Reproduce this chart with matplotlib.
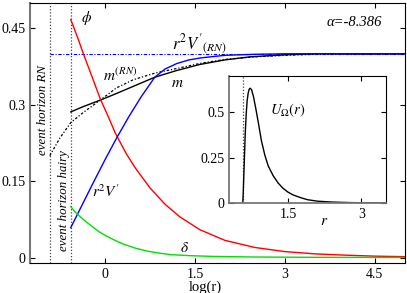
import matplotlib
matplotlib.use("Agg")
import matplotlib.pyplot as plt

plt.rcParams['font.family'] = ['Liberation Serif', 'DejaVu Serif']
plt.rcParams['mathtext.fontset'] = 'stix'

# horizons (log r)
x_rn = -0.92
x_hairy = -0.57

# phi (red)
phi_x = [-0.57, -0.45, -0.36, -0.2, -0.08, 0.05, 0.17, 0.35, 0.5, 0.75, 1.0, 1.25, 1.58,
         2.0, 2.5, 3.0, 3.5, 4.0, 4.5, 5.0]
phi_y = [0.467, 0.43, 0.40, 0.35, 0.312, 0.278, 0.245, 0.205, 0.177, 0.137, 0.105, 0.08, 0.055,
         0.034, 0.02, 0.012, 0.0075, 0.005, 0.003, 0.002]

# r^2 V' (blue)
v_x = [-0.57, -0.4, -0.2, 0.0, 0.2, 0.4, 0.6, 0.83, 1.0, 1.2, 1.4, 1.6, 2.0, 2.5, 3.0, 5.0]
v_y = [0.059, 0.099, 0.146, 0.192, 0.236, 0.277, 0.315, 0.354, 0.370, 0.381, 0.388, 0.392,
       0.397, 0.399, 0.4, 0.4]

# m (black solid)
m_x = [-0.57, -0.37, -0.08, 0.19, 0.47, 0.83, 1.19, 1.58, 2.0, 2.42, 3.0, 3.5, 5.0]
m_y = [0.286, 0.296, 0.309, 0.322, 0.336, 0.354, 0.367, 0.379, 0.388, 0.394, 0.398, 0.4, 0.4]

# m^(RN) (black dotted)
mrn_x = [-0.92, -0.75, -0.57, -0.36, -0.08, 0.19, 0.47, 0.83, 1.19, 1.58, 2.0, 2.5, 3.0, 3.5, 5.0]
mrn_y = [0.2, 0.235, 0.265, 0.285, 0.309, 0.333, 0.349, 0.362, 0.371, 0.381, 0.389, 0.394,
         0.397, 0.399, 0.4]

# delta (green)
d_x = [-0.57, -0.5, -0.4, -0.3, -0.2, -0.1, 0.0, 0.15, 0.3, 0.5, 0.7, 0.9, 1.1, 1.4, 1.8,
       2.5, 3.5, 5.0]
d_y = [0.1, 0.09, 0.079, 0.069, 0.06, 0.051, 0.044, 0.035, 0.027, 0.019, 0.013, 0.009, 0.006,
       0.004, 0.0025, 0.0013, 0.0007, 0.0004]

# r^2 V'_(RN) level
v_rn = 0.4

# inset U_Omega(r)
u_r = [0.58, 0.59, 0.61, 0.63, 0.65, 0.67, 0.69, 0.71, 0.73, 0.76, 0.8, 0.85, 0.9, 0.96,
       1.03, 1.1, 1.2, 1.3, 1.4, 1.5, 1.6, 1.75, 1.9, 2.1, 2.4, 2.8, 3.5]
u_y = [0.0, 0.06, 0.22, 0.38, 0.49, 0.565, 0.605, 0.627, 0.633, 0.625, 0.585, 0.515, 0.44,
       0.345, 0.265, 0.205, 0.152, 0.112, 0.083, 0.062, 0.047, 0.032, 0.02, 0.012, 0.007,
       0.004, 0.002]
r_hairy = 0.578

fig = plt.figure(figsize=(4.07, 2.93), dpi=100)
ax = fig.add_axes([0.0737, 0.1014, 0.921, 0.889])

ax.axvline(x_rn, color='#444444', ls=(0, (1, 1.5)), lw=0.9)
ax.axvline(x_hairy, color='#444444', ls=(0, (1, 1.5)), lw=0.9)
ax.plot([x_rn, 5.0], [v_rn, v_rn], color='blue', ls=(0, (3, 1.5, 1, 1.5)), lw=0.8)
ax.plot(mrn_x, mrn_y, color='black', ls=(0, (2, 1.5, 1, 1.5)), lw=0.9)
ax.plot(m_x, m_y, color='black', lw=1.0)
ax.plot(phi_x, phi_y, color='red', lw=1.0)
ax.plot(v_x, v_y, color='blue', lw=1.0)
ax.plot(d_x, d_y, color='#00e000', lw=1.0)

ax.set_xlim(-1.25, 5.0)
ax.set_ylim(-0.011, 0.5)
ax.set_xticks([0, 1.5, 3, 4.5])
ax.set_xticklabels(['0', '1.5', '3', '4.5'])
ax.set_yticks([0, 0.15, 0.3, 0.45])
ax.set_yticklabels(['0', '0.15', '0.3', '0.45'])
ax.tick_params(direction='in', top=True, right=True, length=3.5, labelsize=10, width=0.8)
ax.text(0.467, -0.092, 'log(r)', fontsize=10.5, ha='center', va='center',
        transform=ax.transAxes)
for s in ['bottom', 'right', 'top']:
    ax.spines[s].set_linewidth(0.8)
ax.spines['left'].set_color('#777777')
ax.spines['left'].set_linewidth(1.5)

ax.text(-0.3, 0.47, r'$\phi$', fontsize=11, ha='center', va='center')
ax.text(1.58, 0.418, r"$r^2V'_{(RN)}$", fontsize=12, ha='center', va='center')
ax.text(0.25, 0.357, r"$m^{(RN)}$", fontsize=11, ha='center', va='center')
ax.text(1.2, 0.342, r"$m$", fontsize=11, ha='center', va='center')
ax.text(4.15, 0.462, 'α=-8.386', fontsize=10.5, style='italic', ha='center', va='center')
ax.text(0.02, 0.13, r"$r^2V'$", fontsize=11, ha='center', va='center')
ax.text(1.33, 0.019, r'$\delta$', fontsize=11, ha='center', va='center')
ax.text(-1.03, 0.29, 'event horizon RN', fontsize=9.3, style='italic',
        rotation=90, ha='center', va='center')
ax.text(-0.69, 0.113, 'event horizon hairy', fontsize=9.3, style='italic',
        rotation=90, ha='center', va='center')

# inset
ins = fig.add_axes([0.5627, 0.306, 0.3857, 0.4346])
ins.axvline(r_hairy, color='#444444', ls=(0, (1, 1.5)), lw=0.9)
ins.plot(u_r, u_y, color='black', lw=1.0)
ins.set_xlim(0.3, 3.5)
ins.set_ylim(0, 0.7)
ins.set_xticks([1.5, 3])
ins.set_xticklabels(['1.5', '3'])
ins.set_yticks([0, 0.25, 0.5])
ins.set_yticklabels(['0', '0.25', '0.5'])
ins.tick_params(direction='in', top=True, right=True, length=3.5, labelsize=10, width=0.8)
ins.text(0.605, -0.14, r'$r$', fontsize=11, ha='center', va='center',
         transform=ins.transAxes)
for s in ['right', 'top']:
    ins.spines[s].set_linewidth(0.8)
for s in ['left', 'bottom']:
    ins.spines[s].set_color('#777777')
    ins.spines[s].set_linewidth(1.3)
ins.text(1.5, 0.51, r'$U_\Omega(r)$', fontsize=10.5, ha='center', va='center')

fig.savefig('out.png', dpi=100)
